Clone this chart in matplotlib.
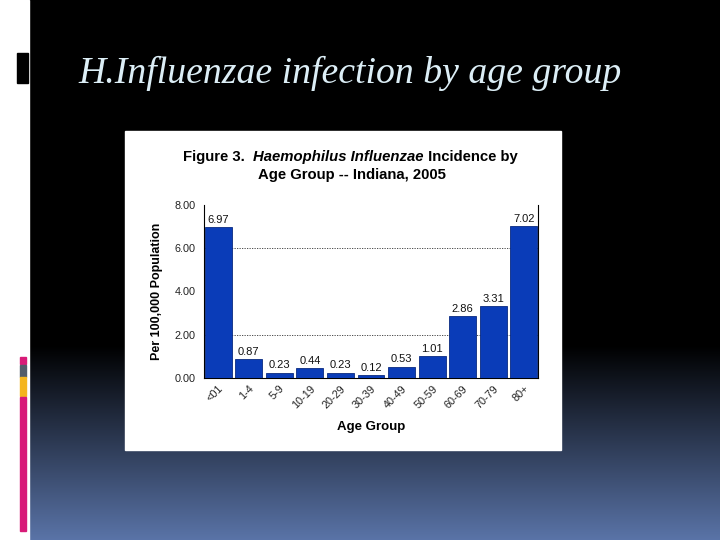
import numpy as np
import matplotlib.pyplot as plt
from matplotlib.patches import Rectangle

# Data
age_groups = ['<01', '1-4', '5-9', '10-19', '20-29', '30-39', '40-49',
              '50-59', '60-69', '70-79', '80+']
incidence = [6.97, 0.87, 0.23, 0.44, 0.23, 0.12, 0.53, 1.01, 2.86, 3.31, 7.02]
y_ticks = [0, 2, 4, 6, 8]
grid_levels = [2, 6]

W, H = 720, 540
fig = plt.figure(figsize=(7.2, 5.4), dpi=100)

# slide background: black fading to blue at the bottom
bg = fig.add_axes([0, 0, 1, 1])
bg.set_xlim(0, W)
bg.set_ylim(H, 0)
bg.axis('off')
rows = np.arange(H)
t = np.clip((rows - 345) / (540 - 345), 0, 1)
top = np.array([0, 0, 0])
bottom = np.array([90, 116, 168]) / 255
grad = top[None, :] * (1 - t[:, None]) + bottom[None, :] * t[:, None]
grad = np.repeat(grad[:, None, :], 2, axis=1)
bg.imshow(grad, extent=[29, W, H, 0], aspect='auto', zorder=0)

# white strip on the left with its decorations
bg.add_patch(Rectangle((0, 0), 29, H, color='white', zorder=1))
bg.add_patch(Rectangle((17, 53), 11, 30, color='black', zorder=2))
for y0, y1, c in [(357, 364, '#d81b78'), (365, 377, '#525c6a'),
                  (377, 396, '#f4b51f'), (397, 531, '#d81b78')]:
    bg.add_patch(Rectangle((20, y0), 6, y1 - y0, color=c, zorder=2))

# slide heading
bg.text(78, 83, 'H.Influenzae infection by age group', color='#dceef6',
        fontsize=27.2, style='italic', family='Liberation Serif',
        va='baseline', ha='left', zorder=3)

# white picture of the chart
bg.add_patch(Rectangle((125, 131), 436, 319, color='white', zorder=2))

fs_title = 10.7
fig.text(183 / W, 1 - 161 / H, 'Figure 3.  ', fontsize=fs_title, fontweight='bold',
         family='Liberation Sans', va='baseline', ha='left')
t1 = fig.texts[-1]
fig.canvas.draw()
t2 = plt.annotate('Haemophilus Influenzae', xy=(1, 0), xycoords=t1,
                  fontsize=fs_title, fontweight='bold', style='italic',
                  family='Liberation Sans', va='bottom', ha='left')
t3 = plt.annotate(' Incidence by', xy=(1, 0), xycoords=t2,
                  fontsize=fs_title, fontweight='bold', family='Liberation Sans',
                  va='bottom', ha='left')
fig.text(352 / W, 1 - 179 / H, 'Age Group -- Indiana, 2005', fontsize=fs_title,
         fontweight='bold', family='Liberation Sans', va='baseline', ha='center')

ax = fig.add_axes([204 / W, 1 - 378 / H, 334 / W, 173 / H])
ax.set_facecolor('white')
x = np.arange(len(age_groups))
bars = ax.bar(x, incidence, width=0.88, color='#0a3cb8', edgecolor='#0a2a80',
              linewidth=0.6, zorder=3)
for xi, v in zip(x, incidence):
    ax.text(xi, v + 0.12, f'{v:.2f}', ha='center', va='bottom', fontsize=8,
            family='Liberation Sans', color='#111111')
for g in grid_levels:
    ax.axhline(g, color='#333333', linestyle=(0, (1.5, 1.5)), linewidth=0.6,
               zorder=1)

ax.set_xlim(-0.46, len(age_groups) - 0.54)
ax.set_ylim(0, 8)
ax.set_yticks(y_ticks)
ax.set_yticklabels([f'{v:.2f}' for v in y_ticks], fontsize=7.8,
                   family='Liberation Sans', color='#222222')
ax.set_xticks(x)
ax.set_xticklabels(age_groups, rotation=45, ha='right', rotation_mode='anchor',
                   fontsize=7.8, family='Liberation Sans', color='#222222')
ax.tick_params(axis='both', length=0, pad=6)
ax.tick_params(axis='x', pad=4)
ax.spines['top'].set_visible(False)
for s in ['left', 'right', 'bottom']:
    ax.spines[s].set_linewidth(0.8)
    ax.spines[s].set_color('black')

ax.set_xlabel('Age Group', fontsize=9.5, fontweight='bold',
              family='Liberation Sans', labelpad=8)
ax.set_ylabel('Per 100,000 Population', fontsize=9, fontweight='bold',
              family='Liberation Sans', labelpad=8)

fig.savefig('out.png', dpi=100)
